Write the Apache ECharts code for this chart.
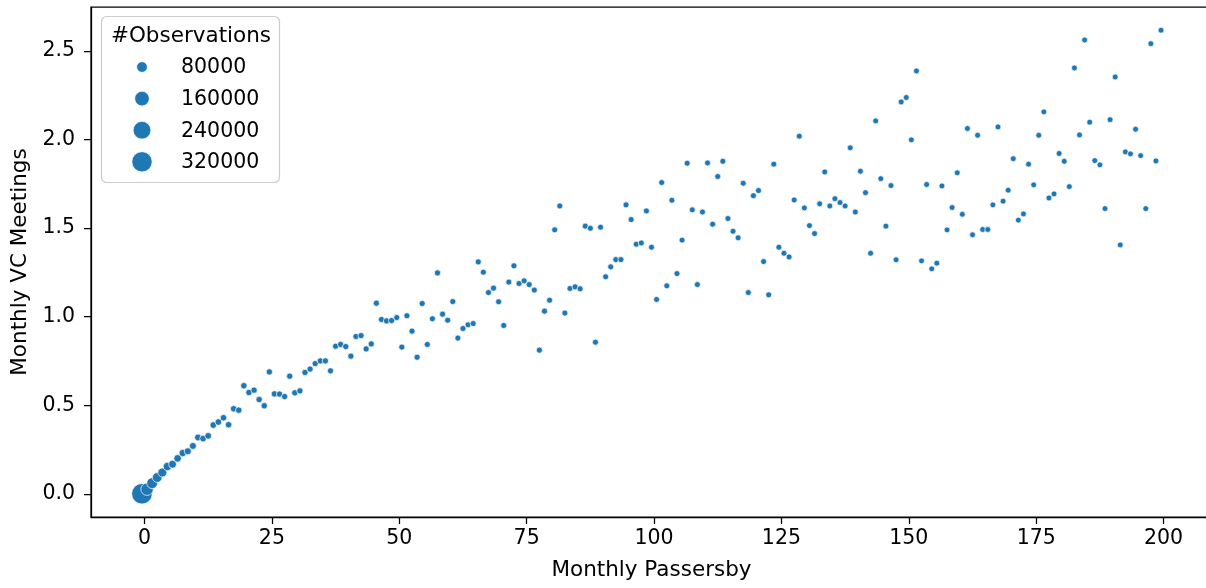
<!DOCTYPE html>
<html>
<head>
<meta charset="utf-8">
<script src="https://cdn.jsdelivr.net/npm/echarts@6/dist/echarts.min.js"></script>
<style>
	html, body { margin: 0; padding: 0; background: #fff; }
	#main { width: 1206px; height: 588px; }
</style>
</head>
<body>
<div id="main"></div>
<script>
// bin centres (monthly passersby)
var passersby = [
	-0.5, 0.5, 1.5, 2.5, 3.5, 4.5, 5.5, 6.5, 7.5, 8.5,
	9.5, 10.5, 11.5, 12.5, 13.5, 14.5, 15.5, 16.5, 17.5, 18.5,
	19.5, 20.5, 21.5, 22.5, 23.5, 24.5, 25.5, 26.5, 27.5, 28.5,
	29.5, 30.5, 31.5, 32.5, 33.5, 34.5, 35.5, 36.5, 37.5, 38.5,
	39.5, 40.5, 41.5, 42.5, 43.5, 44.5, 45.5, 46.5, 47.5, 48.5,
	49.5, 50.5, 51.5, 52.5, 53.5, 54.5, 55.5, 56.5, 57.5, 58.5,
	59.5, 60.5, 61.5, 62.5, 63.5, 64.5, 65.5, 66.5, 67.5, 68.5,
	69.5, 70.5, 71.5, 72.5, 73.5, 74.5, 75.5, 76.5, 77.5, 78.5,
	79.5, 80.5, 81.5, 82.5, 83.5, 84.5, 85.5, 86.5, 87.5, 88.5,
	89.5, 90.5, 91.5, 92.5, 93.5, 94.5, 95.5, 96.5, 97.5, 98.5,
	99.5, 100.5, 101.5, 102.5, 103.5, 104.5, 105.5, 106.5, 107.5, 108.5,
	109.5, 110.5, 111.5, 112.5, 113.5, 114.5, 115.5, 116.5, 117.5, 118.5,
	119.5, 120.5, 121.5, 122.5, 123.5, 124.5, 125.5, 126.5, 127.5, 128.5,
	129.5, 130.5, 131.5, 132.5, 133.5, 134.5, 135.5, 136.5, 137.5, 138.5,
	139.5, 140.5, 141.5, 142.5, 143.5, 144.5, 145.5, 146.5, 147.5, 148.5,
	149.5, 150.5, 151.5, 152.5, 153.5, 154.5, 155.5, 156.5, 157.5, 158.5,
	159.5, 160.5, 161.5, 162.5, 163.5, 164.5, 165.5, 166.5, 167.5, 168.5,
	169.5, 170.5, 171.5, 172.5, 173.5, 174.5, 175.5, 176.5, 177.5, 178.5,
	179.5, 180.5, 181.5, 182.5, 183.5, 184.5, 185.5, 186.5, 187.5, 188.5,
	189.5, 190.5, 191.5, 192.5, 193.5, 194.5, 195.5, 196.5, 197.5, 198.5,
	199.5
];

// monthly VC meetings
var meetings = [
	0.0, 0.026, 0.06, 0.092, 0.12, 0.154, 0.167, 0.2, 0.23, 0.24,
	0.27, 0.318, 0.312, 0.327, 0.388, 0.405, 0.429, 0.39, 0.48, 0.472,
	0.61, 0.572, 0.585, 0.532, 0.497, 0.688, 0.564, 0.563, 0.549, 0.664,
	0.57, 0.581, 0.685, 0.704, 0.735, 0.75, 0.75, 0.694, 0.833, 0.843,
	0.831, 0.777, 0.888, 0.893, 0.818, 0.846, 1.076, 0.984, 0.976, 0.978,
	0.995, 0.828, 1.005, 0.918, 0.771, 1.074, 0.843, 0.988, 1.247, 1.014,
	0.98, 1.085, 0.879, 0.933, 0.954, 0.961, 1.309, 1.251, 1.136, 1.161,
	1.084, 0.95, 1.195, 1.287, 1.187, 1.202, 1.181, 1.15, 0.811, 1.031,
	1.093, 1.49, 1.625, 1.02, 1.159, 1.168, 1.157, 1.511, 1.499, 0.856,
	1.505, 1.225, 1.281, 1.322, 1.322, 1.631, 1.548, 1.409, 1.416, 1.597,
	1.392, 1.097, 1.757, 1.174, 1.657, 1.243, 1.432, 1.866, 1.603, 1.181,
	1.591, 1.868, 1.522, 1.791, 1.877, 1.554, 1.482, 1.445, 1.753, 1.136,
	1.683, 1.712, 1.311, 1.123, 1.861, 1.392, 1.358, 1.337, 1.659, 2.019,
	1.614, 1.514, 1.469, 1.637, 1.817, 1.625, 1.666, 1.644, 1.625, 1.953,
	1.591, 1.821, 1.7, 1.358, 2.105, 1.779, 1.511, 1.74, 1.321, 2.212,
	2.237, 1.998, 2.387, 1.315, 1.746, 1.27, 1.302, 1.738, 1.49, 1.616,
	1.812, 1.578, 2.062, 1.462, 2.024, 1.492, 1.492, 1.631, 2.071, 1.652,
	1.714, 1.892, 1.545, 1.58, 1.861, 1.744, 2.024, 2.156, 1.67, 1.693,
	1.921, 1.877, 1.734, 2.404, 2.026, 2.562, 2.098, 1.881, 1.857, 1.61,
	2.112, 2.353, 1.405, 1.93, 1.919, 2.058, 1.909, 1.61, 2.541, 1.879,
	2.617
];

// number of observations per bin
var observations = [
	330000, 112000, 82000, 64000, 52000, 44000, 38000, 34000, 31000, 28000,
	26000, 25000, 24000, 23500, 23000, 22500, 22000, 21500, 21000, 21000,
	20500, 20500, 20000, 20000, 20000, 19500, 19500, 19500, 19000, 19000,
	19000, 19000, 18500, 18500, 18500, 18500, 18500, 18000, 18000, 18000,
	18000, 18000, 18000, 18000, 18000, 18000, 18000, 18000, 18000, 18000,
	17500, 17500, 17500, 17500, 17500, 17500, 17500, 17500, 17500, 17500,
	17000, 17000, 17000, 17000, 17000, 17000, 17000, 17000, 17000, 17000,
	17000, 17000, 17000, 17000, 17000, 17000, 17000, 17000, 17000, 17000,
	16500, 16500, 16500, 16500, 16500, 16500, 16500, 16500, 16500, 16500,
	16500, 16500, 16500, 16500, 16500, 16500, 16500, 16500, 16500, 16500,
	16000, 16000, 16000, 16000, 16000, 16000, 16000, 16000, 16000, 16000,
	16000, 16000, 16000, 16000, 16000, 16000, 16000, 16000, 16000, 16000,
	16000, 16000, 16000, 16000, 16000, 16000, 16000, 16000, 16000, 16000,
	15500, 15500, 15500, 15500, 15500, 15500, 15500, 15500, 15500, 15500,
	15500, 15500, 15500, 15500, 15500, 15500, 15500, 15500, 15500, 15500,
	15000, 15000, 15000, 15000, 15000, 15000, 15000, 15000, 15000, 15000,
	15000, 15000, 15000, 15000, 15000, 15000, 15000, 15000, 15000, 15000,
	15000, 15000, 15000, 15000, 15000, 15000, 15000, 15000, 15000, 15000,
	15000, 15000, 15000, 15000, 15000, 15000, 15000, 15000, 15000, 15000,
	15000, 15000, 15000, 15000, 15000, 15000, 15000, 15000, 15000, 15000,
	15000
];

var xTicks = [0, 25, 50, 75, 100, 125, 150, 175, 200];
var yTicks = [0, 0.5, 1.0, 1.5, 2.0, 2.5];
var legendSizes = [80000, 160000, 240000, 320000];

var font = 'DejaVu Sans';
var blue = '#1f77b4';

// marker diameter from number of observations
function sizeOf(n) {
	return Math.sqrt(16 + 99 * n / 80000);
}

var points = passersby.map(function (x, i) {
	return [x, meetings[i], observations[i]];
});

// size legend drawn as graphic
var legendItems = [{
	type: 'rect',
	shape: { x: 101.5, y: 16.5, width: 178, height: 166, r: 5 },
	style: { fill: 'rgba(255,255,255,0.8)', stroke: '#cccccc', lineWidth: 1.2 },
	z: 10
}, {
	type: 'text',
	x: 191, y: 36,
	style: {
		text: '#Observations', fontFamily: font, fontSize: 21.5, fill: '#000',
		textAlign: 'center', textVerticalAlign: 'middle'
	},
	z: 11
}];
legendSizes.forEach(function (n, k) {
	var cy = 67 + k * 31.6;
	legendItems.push({
		type: 'circle',
		shape: { cx: 142, cy: cy, r: sizeOf(n) / 2 },
		style: { fill: blue, stroke: '#fff', lineWidth: 0.7 },
		z: 11
	});
	legendItems.push({
		type: 'text',
		x: 181, y: cy + 1,
		style: {
			text: String(n), fontFamily: font, fontSize: 20.5, fill: '#000',
			textAlign: 'left', textVerticalAlign: 'middle'
		},
		z: 11
	});
});

var myChart = echarts.init(document.getElementById('main'), null, { renderer: 'canvas' });
var option = {
	animation: false,
	backgroundColor: '#fff',
	grid: {
		left: 91,
		right: -6,
		top: 7,
		bottom: 71,
		show: true,
		borderColor: '#000',
		borderWidth: 1.25,
		backgroundColor: 'transparent',
		containLabel: false,
		outerBoundsMode: 'none'
	},
	xAxis: {
		type: 'value',
		min: -10.5,
		max: 209.5,
		name: 'Monthly Passersby',
		nameLocation: 'middle',
		nameGap: 42,
		nameTextStyle: { fontFamily: font, fontSize: 21.5, color: '#000' },
		axisLine: { show: true, onZero: false, lineStyle: { color: '#000', width: 1.25 } },
		axisTick: { show: true, length: 7, inside: false, customValues: xTicks, lineStyle: { color: '#000', width: 1.25 } },
		axisLabel: { show: true, margin: 11, customValues: xTicks, fontFamily: font, fontSize: 20.5, color: '#000' },
		splitLine: { show: false }
	},
	yAxis: {
		type: 'value',
		min: -0.131,
		max: 2.748,
		name: 'Monthly VC Meetings',
		nameLocation: 'middle',
		nameGap: 58,
		nameTextStyle: { fontFamily: font, fontSize: 21.5, color: '#000' },
		axisLine: { show: true, onZero: false, lineStyle: { color: '#000', width: 1.25 } },
		axisTick: { show: true, length: 7, inside: false, customValues: yTicks, lineStyle: { color: '#000', width: 1.25 } },
		axisLabel: {
			show: true, margin: 16, customValues: yTicks, fontFamily: font, fontSize: 20.5, color: '#000',
			formatter: function (v) { return v.toFixed(1); }
		},
		splitLine: { show: false }
	},
	series: [{
		type: 'scatter',
		data: points,
		symbol: 'circle',
		symbolSize: function (val) { return sizeOf(val[2]); },
		itemStyle: { color: blue, borderColor: '#fff', borderWidth: 0.7, opacity: 1 },
		emphasis: { disabled: true }
	}],
	graphic: legendItems
};
myChart.setOption(option);
</script>
</body>
</html>
